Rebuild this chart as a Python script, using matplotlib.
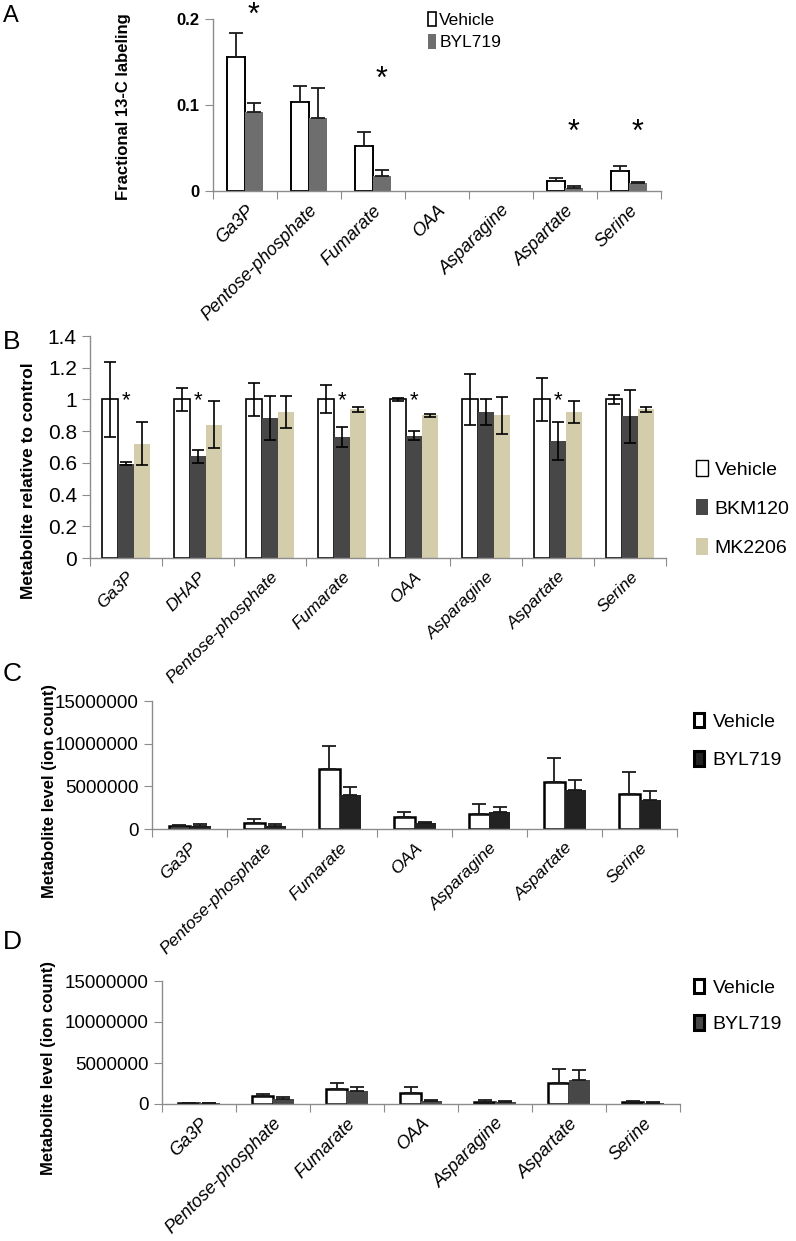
import matplotlib
matplotlib.use('Agg')
import matplotlib.pyplot as plt
from matplotlib import font_manager
from matplotlib.patches import Patch
import numpy as np

names = {f.name for f in font_manager.fontManager.ttflist}
NARROW = 'Liberation Sans Narrow' if 'Liberation Sans Narrow' in names else 'Liberation Sans'
plt.rcParams['font.family'] = ['Liberation Sans', 'DejaVu Sans']

W, H = 796, 1241
AXIS_GRAY = '#8c8c8c'

# ---- panel A : fractional 13-C labeling ----
a_labels = ['Ga3P', 'Pentose-phosphate', 'Fumarate', 'OAA', 'Asparagine', 'Aspartate', 'Serine']
a_vehicle = [0.1555, 0.1037, 0.0518, 0.0, 0.0, 0.0120, 0.0236]
a_vehicle_err = [0.0283, 0.0185, 0.0167, 0.0, 0.0, 0.0035, 0.0054]
a_byl = [0.0917, 0.0851, 0.0174, 0.0, 0.0, 0.0039, 0.0097]
a_byl_err = [0.0103, 0.0344, 0.0066, 0.0, 0.0, 0.0019, 0.0007]
a_stars = {0: 0.2035, 2: 0.129, 5: 0.0674, 6: 0.0674}

# ---- panel B : relative to control ----
b_labels = ['Ga3P', 'DHAP', 'Pentose-phosphate', 'Fumarate', 'OAA', 'Asparagine', 'Aspartate', 'Serine']
b_vehicle = [1.0, 1.0, 1.0, 1.0, 1.0, 1.0, 1.0, 1.0]
b_vehicle_err = [0.234, 0.075, 0.106, 0.088, 0.011, 0.16, 0.138, 0.029]
b_bkm = [0.595, 0.641, 0.882, 0.763, 0.771, 0.92, 0.735, 0.893]
b_bkm_err = [0.010, 0.041, 0.137, 0.063, 0.027, 0.08, 0.12, 0.167]
b_mk = [0.72, 0.84, 0.92, 0.937, 0.899, 0.899, 0.92, 0.937]
b_mk_err = [0.135, 0.147, 0.102, 0.017, 0.011, 0.118, 0.067, 0.017]
b_stars = [0, 1, 3, 4, 6]

# ---- panel C / D : ion counts ----
cd_labels = ['Ga3P', 'Pentose-phosphate', 'Fumarate', 'OAA', 'Asparagine', 'Aspartate', 'Serine']
c_vehicle = [0.31e6, 0.67e6, 7.03e6, 1.37e6, 1.81e6, 5.46e6, 4.09e6]
c_vehicle_err = [0.12e6, 0.47e6, 2.75e6, 0.67e6, 1.17e6, 2.87e6, 2.63e6]
c_byl = [0.39e6, 0.31e6, 3.93e6, 0.67e6, 2.04e6, 4.60e6, 3.34e6]
c_byl_err = [0.24e6, 0.24e6, 1.02e6, 0.19e6, 0.59e6, 1.09e6, 1.06e6]

d_vehicle = [0.08e6, 0.94e6, 1.79e6, 1.34e6, 0.29e6, 2.61e6, 0.29e6]
d_vehicle_err = [0.04e6, 0.24e6, 0.74e6, 0.78e6, 0.16e6, 1.67e6, 0.04e6]
d_byl = [0.08e6, 0.65e6, 1.55e6, 0.37e6, 0.20e6, 2.93e6, 0.12e6]
d_byl_err = [0.02e6, 0.25e6, 0.49e6, 0.12e6, 0.21e6, 1.23e6, 0.12e6]

cd_ticks = [0, 5000000, 10000000, 15000000]
cd_ticklabels = ['0', '5000000', '10000000', '15000000']


def add_axes(fig, left, top, right, bottom):
    return fig.add_axes([left / W, 1 - bottom / H, (right - left) / W, (bottom - top) / H])


def style_axes(ax, n, labels, xsize=12.5):
    for s in ['top', 'right']:
        ax.spines[s].set_visible(False)
    for s in ['left', 'bottom']:
        ax.spines[s].set_color(AXIS_GRAY)
        ax.spines[s].set_linewidth(1.0)
    ax.set_xlim(-0.5, n - 0.5)
    ax.set_xticks(np.arange(n + 1) - 0.5)
    ax.set_xticklabels([])
    ax.set_xticks(np.arange(n), minor=True)
    ax.set_xticklabels(labels, minor=True, rotation=45, ha='right', va='top',
                       rotation_mode='anchor', style='italic', fontsize=xsize)
    ax.tick_params(axis='x', which='major', length=6, color=AXIS_GRAY, direction='out')
    ax.tick_params(axis='x', which='minor', length=0, pad=8)
    ax.tick_params(axis='y', length=6, color=AXIS_GRAY, direction='out')


def upper_bars(ax, xs, vals, errs, color, edge, lw):
    # skip the empty (zero) entries, nothing is drawn there
    vals = np.asarray(vals)
    errs = np.asarray(errs)
    keep = vals > 0
    ax.bar(xs[keep], vals[keep], bar_w, color=color, edgecolor=edge, linewidth=lw, zorder=2)
    ax.errorbar(xs[keep], vals[keep], yerr=[np.zeros(keep.sum()), errs[keep]], fmt='none',
                ecolor='#1a1a1a', elinewidth=1.3, capsize=5, capthick=1.3, zorder=3)


fig = plt.figure(figsize=(W / 100, H / 100), dpi=100)

# ---------------- A ----------------
ax = add_axes(fig, 213, 19, 661, 191)
n = len(a_labels)
x = np.arange(n)
bar_w = 0.28
upper_bars(ax, x - bar_w / 2, a_vehicle, a_vehicle_err, 'white', 'black', 1.4)
upper_bars(ax, x + bar_w / 2, a_byl, a_byl_err, '#6e6e6e', 'none', 0)
for i, yv in a_stars.items():
    ax.text(x[i] + bar_w / 2, yv, '*', ha='center', va='center', fontsize=22, clip_on=False)
ax.set_ylim(0, 0.2)
ax.set_yticks([0, 0.1, 0.2])
style_axes(ax, n, a_labels, xsize=13)
ax.set_yticklabels(['0', '0.1', '0.2'], family=NARROW, fontweight='bold', fontsize=12)
ax.set_ylabel('Fractional 13-C labeling', fontweight='bold', fontsize=12)
ax.yaxis.set_label_coords(-0.183, 0.49)
fig.legend(handles=[Patch(facecolor='white', edgecolor='black', linewidth=1.2, label='Vehicle'),
                    Patch(facecolor='#6e6e6e', edgecolor='none', label='BYL719')],
           loc='upper left', bbox_to_anchor=(428 / W, 1 - 12 / H), frameon=False,
           borderpad=0, borderaxespad=0,
           handlelength=0.45, handleheight=0.9, handletextpad=0.2, labelspacing=0.35,
           prop={'size': 12.5})
fig.text(3 / W, 1 - 16 / H, 'A', family=NARROW, fontsize=17, va='center')

# ---------------- B ----------------
ax = add_axes(fig, 90, 336, 666, 558)
n = len(b_labels)
x = np.arange(n)
w = 0.22
ax.bar(x - w, b_vehicle, w, color='white', edgecolor='black', linewidth=1.2, zorder=2)
ax.bar(x, b_bkm, w, color='#474747', edgecolor='none', zorder=2)
ax.bar(x + w, b_mk, w, color='#d3cdab', edgecolor='none', zorder=2)
for xs, ys, es in [(x - w, b_vehicle, b_vehicle_err), (x, b_bkm, b_bkm_err), (x + w, b_mk, b_mk_err)]:
    ax.errorbar(xs, ys, yerr=es, fmt='none', ecolor='black', elinewidth=1.2,
                capsize=4, capthick=1.2, zorder=3)
for i in b_stars:
    ax.text(x[i], 0.99, '*', ha='center', va='center', fontsize=16, zorder=4)
ax.set_ylim(0, 1.4)
ax.set_yticks(np.arange(0, 1.41, 0.2))
style_axes(ax, n, b_labels, xsize=12.5)
ax.set_yticklabels(['0', '0.2', '0.4', '0.6', '0.8', '1', '1.2', '1.4'], family=NARROW, fontsize=15)
ax.set_ylabel('Metabolite relative to control', fontweight='bold', fontsize=12.5)
ax.yaxis.set_label_coords(-0.094, 0.35)
fig.legend(handles=[Patch(facecolor='white', edgecolor='black', linewidth=1.0, label='Vehicle'),
                    Patch(facecolor='#474747', edgecolor='none', label='BKM120'),
                    Patch(facecolor='#d3cdab', edgecolor='none', label='MK2206')],
           loc='upper left', bbox_to_anchor=(696 / W, 1 - 460 / H), frameon=False,
           borderpad=0, borderaxespad=0,
           handlelength=0.6, handleheight=0.9, handletextpad=0.35, labelspacing=1.05,
           prop={'size': 14})
fig.text(3 / W, 1 - 342 / H, 'B', family=NARROW, fontsize=19, va='center')


# ---------------- C / D ----------------
def ion_panel(rect, veh, veh_err, byl, byl_err, byl_color, legend_top, spacing,
              label_xy, xsize, letter, letter_y):
    ax = add_axes(fig, *rect)
    n = len(cd_labels)
    x = np.arange(n)
    upper_bars(ax, x - bar_w / 2, veh, veh_err, 'white', 'black', 1.8)
    upper_bars(ax, x + bar_w / 2, byl, byl_err, byl_color, 'none', 0)
    ax.set_ylim(0, 15000000)
    ax.set_yticks(cd_ticks)
    style_axes(ax, n, cd_labels, xsize=xsize)
    ax.set_yticklabels(cd_ticklabels, family=NARROW, fontsize=13.5)
    ax.set_ylabel('Metabolite level (ion count)', fontweight='bold', fontsize=12)
    ax.yaxis.set_label_coords(*label_xy)
    fig.legend(handles=[Patch(facecolor='white', edgecolor='black', linewidth=2.2, label='Vehicle'),
                        Patch(facecolor=byl_color, edgecolor='black', linewidth=2.2, label='BYL719')],
               loc='upper left', bbox_to_anchor=(694 / W, 1 - legend_top / H), frameon=False,
               borderpad=0, borderaxespad=0,
               handlelength=0.5, handleheight=0.75, handletextpad=0.45, labelspacing=spacing,
               prop={'size': 14})
    fig.text(3 / W, 1 - letter_y / H, letter, family=NARROW, fontsize=19, va='center')


ion_panel((152, 701, 677, 829), c_vehicle, c_vehicle_err, c_byl, c_byl_err, '#222222',
          713, 1.05, (-0.181, 0.3), 12.5, 'C', 674)
ion_panel((162, 981, 680, 1104), d_vehicle, d_vehicle_err, d_byl, d_byl_err, '#474747',
          979, 0.95, (-0.205, 0.29), 13, 'D', 942)

fig.savefig('out.png', dpi=100)
